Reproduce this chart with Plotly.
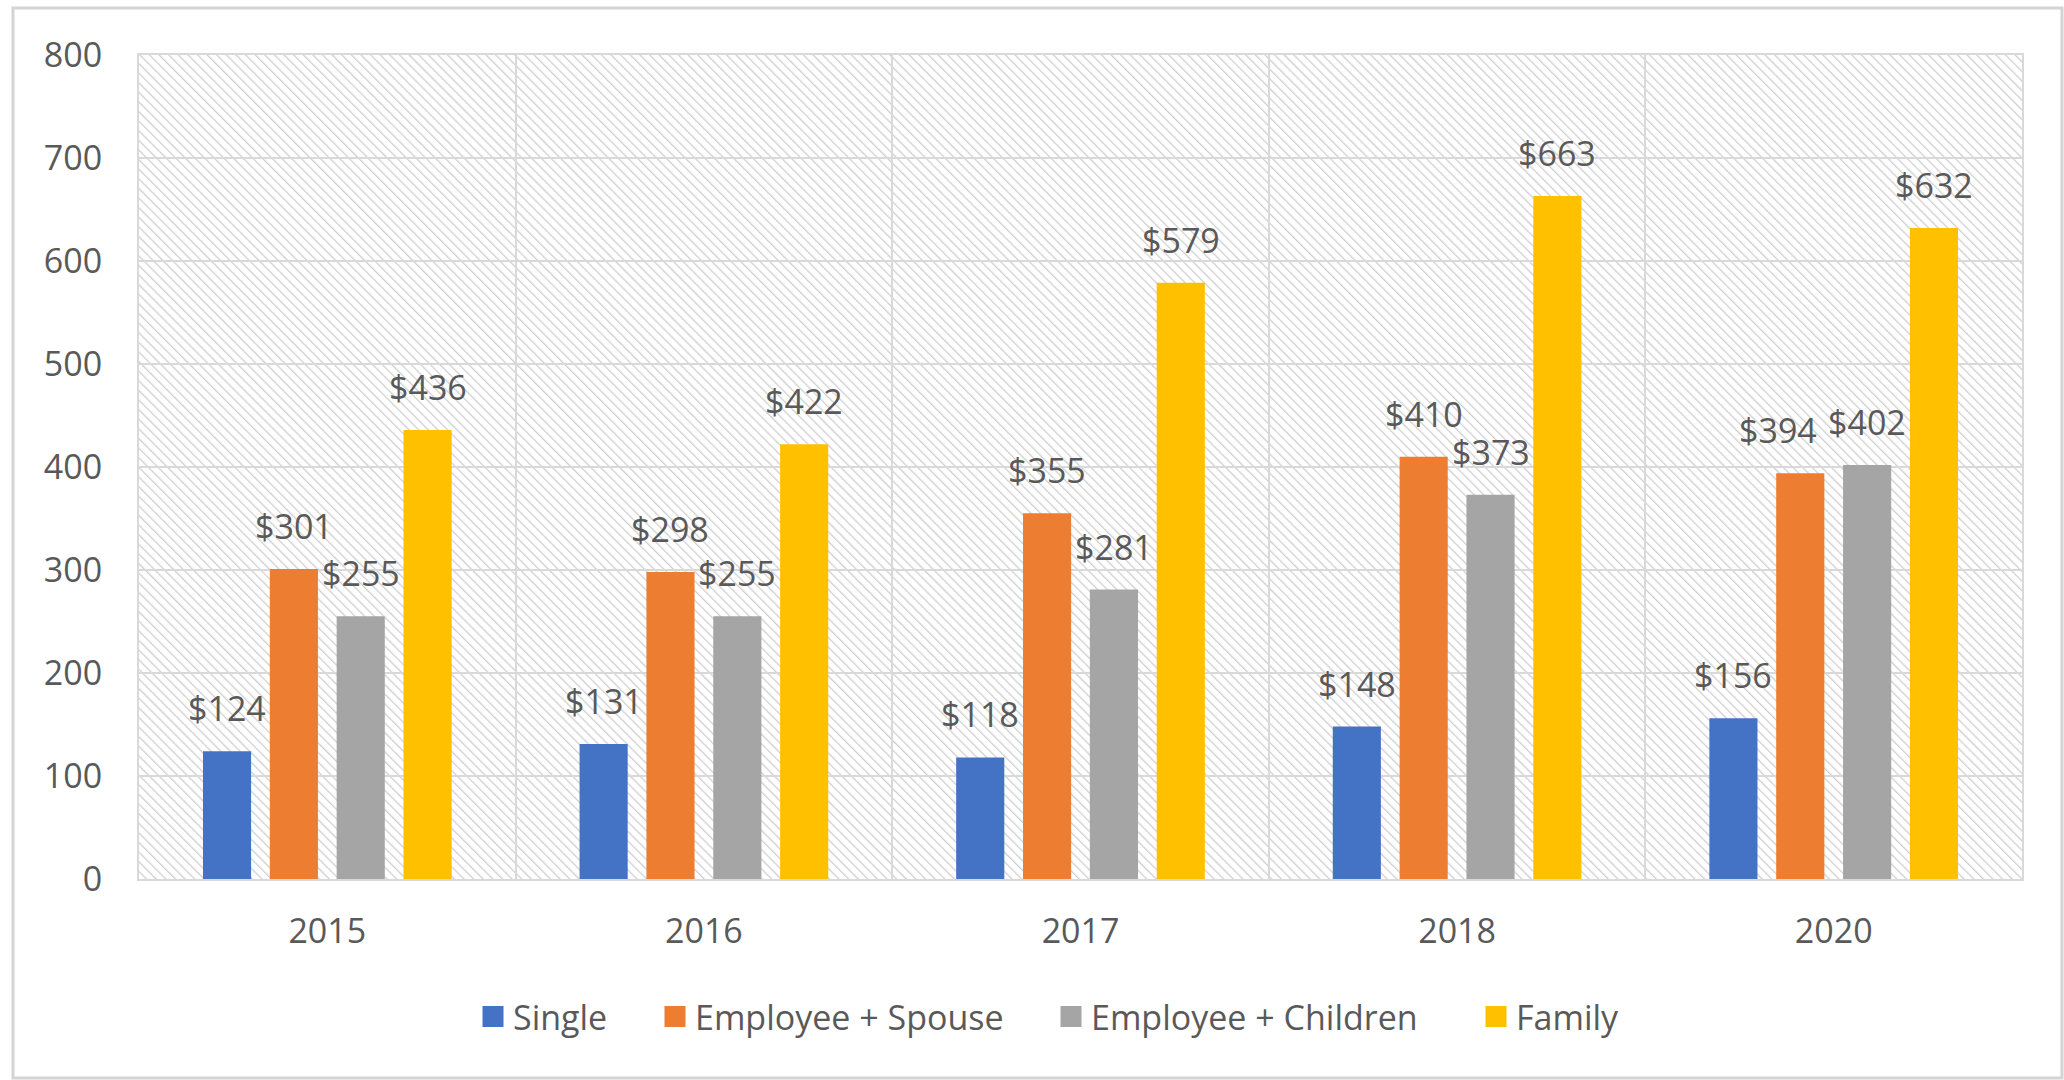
import base64
import plotly.graph_objects as go

# Monthly premium contribution by coverage tier
years = ["2015", "2016", "2017", "2018", "2020"]
single = [124, 131, 118, 148, 156]
employee_spouse = [301, 298, 355, 410, 394]
employee_children = [255, 255, 281, 373, 402]
family = [436, 422, 579, 663, 632]

series_names = ["Single", "Employee + Spouse", "Employee + Children", "Family"]
series_values = [single, employee_spouse, employee_children, family]
series_colors = ["#4472C4", "#ED7D31", "#A5A5A5", "#FFC000"]

FONT = "Open Sans"
TEXT_COLOR = "#595959"
GRID = "#d9d9d9"

W, H = 2064, 1080
M_L, M_R, M_T, M_B = 139, 42, 55, 201
PW, PH = W - M_L - M_R, H - M_T - M_B

BARGAP = 0.29
BARGROUPGAP = 0.28

fig = go.Figure()

for name, vals, color in zip(series_names, series_values, series_colors):
    fig.add_trace(go.Bar(
        x=years, y=vals, name=name,
        marker=dict(color=color, line=dict(width=0)),
        showlegend=False,
    ))

# Legend entries with larger square swatches, one legend per entry
legend_left_px = [473, 655, 1051, 1476]
for k, (name, color) in enumerate(zip(series_names, series_colors)):
    lg = "legend" if k == 0 else f"legend{k + 1}"
    fig.add_trace(go.Scatter(
        x=[None], y=[None], mode="markers", name=name,
        marker=dict(symbol="square", size=16, color=color,
                    line=dict(color=color, width=5)),
        legend=lg, showlegend=True, hoverinfo="skip",
    ))
    fig.update_layout(**{lg: dict(
        orientation="h",
        x=(legend_left_px[k] - M_L) / PW, xanchor="left",
        y=(M_T + PH - 1017) / PH, yanchor="middle",
        font=dict(family=FONT, size=34, color=TEXT_COLOR),
        bgcolor="rgba(0,0,0,0)", borderwidth=0,
    )})

# Value labels centred above each bar; one label nudged left to clear its neighbour
label_xshift = {(1, 4): -22}
n = len(series_names)
slot = (1 - BARGAP) / n
annotations = []
for i, vals in enumerate(series_values):
    off = -(1 - BARGAP) / 2 + slot * (i + 0.5)
    for j, v in enumerate(vals):
        annotations.append(dict(
            x=j + off, y=v, xref="x", yref="y",
            text=f"${v}", showarrow=False,
            yanchor="middle", yshift=43, xshift=label_xshift.get((i, j), 0),
            font=dict(family=FONT, size=34, color=TEXT_COLOR),
        ))

# Diagonal hatch fill for the plot area
svg = (
    f'<svg xmlns="http://www.w3.org/2000/svg" width="{PW}" height="{PH}" '
    f'viewBox="0 0 {PW} {PH}" preserveAspectRatio="none">'
    '<defs><pattern id="h" width="6.8" height="6.8" patternUnits="userSpaceOnUse" '
    'patternTransform="rotate(-45)">'
    '<line x1="0" y1="-1" x2="0" y2="8" stroke="#cfcfcf" stroke-width="2.6"/>'
    '</pattern></defs>'
    f'<rect width="{PW}" height="{PH}" fill="#ffffff"/>'
    f'<rect width="{PW}" height="{PH}" fill="url(#h)"/>'
    '</svg>'
)
hatch_src = "data:image/svg+xml;base64," + base64.b64encode(svg.encode()).decode()

fig.update_layout(
    width=W, height=H,
    margin=dict(l=M_L, r=M_R, t=M_T, b=M_B),
    paper_bgcolor="#ffffff",
    plot_bgcolor="rgba(0,0,0,0)",
    barmode="group",
    bargap=BARGAP,
    bargroupgap=BARGROUPGAP,
    font=dict(family=FONT, size=34, color=TEXT_COLOR),
    annotations=annotations,
    images=[dict(
        source=hatch_src, xref="paper", yref="paper",
        x=0, y=1, sizex=1, sizey=1, xanchor="left", yanchor="top",
        sizing="stretch", layer="below",
    )],
    shapes=[dict(
        type="rect", xref="paper", yref="paper",
        x0=(13 - M_L) / PW, x1=(2062 - M_L) / PW,
        y0=(M_T + PH - 1078) / PH, y1=(M_T + PH - 8) / PH,
        line=dict(color="#d4d4d4", width=3), fillcolor="rgba(0,0,0,0)",
        layer="below",
    )],
    xaxis=dict(
        type="category", tickson="boundaries",
        showgrid=True, gridcolor=GRID, gridwidth=2,
        showline=True, linecolor=GRID, linewidth=2, mirror=True,
        ticks="", ticklabelstandoff=21,
        tickfont=dict(family=FONT, size=34, color=TEXT_COLOR),
        zeroline=False, fixedrange=True,
    ),
    yaxis=dict(
        range=[0, 800], dtick=100, tick0=0,
        showgrid=True, gridcolor=GRID, gridwidth=2,
        showline=True, linecolor=GRID, linewidth=2, mirror=True,
        ticks="", ticklabelstandoff=28,
        tickfont=dict(family=FONT, size=34, color=TEXT_COLOR),
        zeroline=False, fixedrange=True,
    ),
)

fig.write_html("out.html")
